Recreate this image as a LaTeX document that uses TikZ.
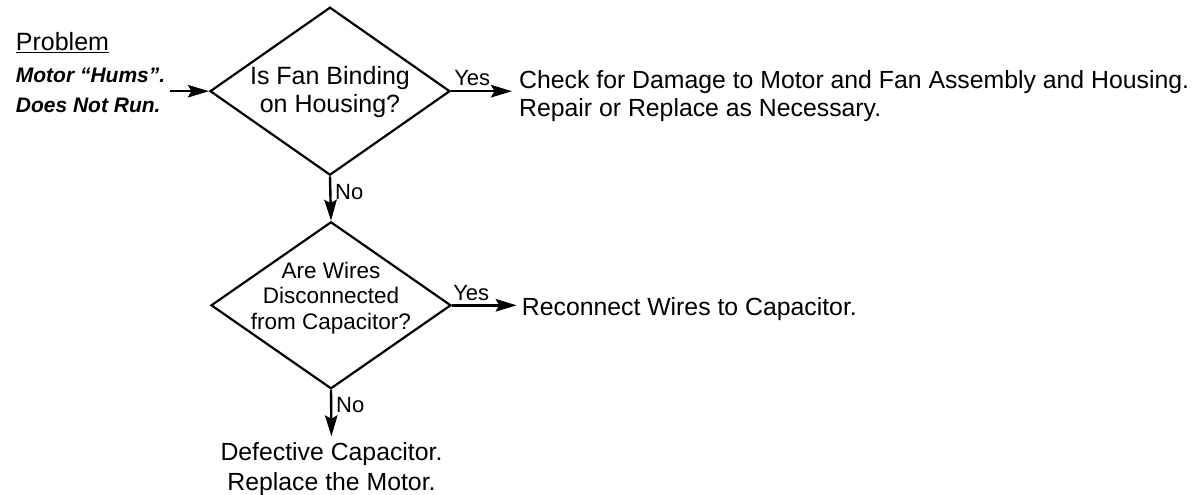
\documentclass[tikz,border=0pt]{standalone}
\usepackage{fontspec}
\setmainfont{Liberation Sans}
\usetikzlibrary{shapes.geometric,arrows.meta}
\begin{document}
\begin{tikzpicture}[x=1pt,y=-1pt,
  dia/.style={draw, shape=diamond, line width=2.2pt, minimum width=240pt,
              minimum height=168pt, inner sep=0pt},
  arr/.style={line width=2.4pt, -{Stealth[length=21pt,width=12.5pt,inset=3.5pt]}},
  txt/.style={inner sep=0pt, font=\fontsize{24.8}{28.4}\selectfont},
  lbl/.style={inner sep=0pt, font=\fontsize{22}{26}\selectfont},
]
\useasboundingbox (0,0) rectangle (1194,495);

% decision diamonds and their questions
\node[dia] (d1) at (330,91.2) {};
\node[inner sep=0pt, align=center, font=\fontsize{25}{28.4}\selectfont] (t1)
  at (330,92.3) {Is Fan Binding\\on Housing?};
\node[dia, minimum height=167pt] (d2) at (331,305.3) {};
\node[inner sep=0pt, align=center, font=\fontsize{22.5}{25.5}\selectfont] (t2)
  at (331,297.8) {Are Wires\\Disconnected\\from Capacitor?};

% problem statement
\node[inner sep=0pt, anchor=base west, font=\fontsize{25}{28}\selectfont] (prob)
  at (15.7,50.7) {\underline{Problem}};
\node[inner sep=0pt, anchor=west, align=left,
      font=\fontsize{21}{30}\selectfont\bfseries\itshape] (sym)
  at (15.7,90.5) {Motor “Hums”.\\Does Not Run.};

% outcomes
\node[txt, anchor=west, align=left] (chk) at (519,96.3)
  {Check for Damage to Motor and Fan Assembly and Housing.\\Repair or Replace as Necessary.};
\node[txt, anchor=base west] (rec) at (521.7,315) {Reconnect Wires to Capacitor.};
\node[txt, align=center, font=\fontsize{24.8}{30}\selectfont] (def) at (331.5,468.9)
  {Defective Capacitor.\\Replace the Motor.};

% flow
\draw[arr, shorten <=5pt] (sym.east |- d1.west) -- (d1.west);
\draw[arr, shorten >=7pt] (d1.east) --
  node[lbl, pos=0, anchor=base west, xshift=2pt, yshift=5.5pt] (y1) {Yes}
  (d1.east -| chk.west);
\draw[arr] (d1.south) --
  node[lbl, pos=0, anchor=base west, xshift=4pt, yshift=-23pt] (n1) {No}
  (d2.north);
\draw[arr, shorten >=5pt] (d2.east) --
  node[lbl, pos=0, anchor=base west, xshift=0pt, yshift=4.5pt] (y2) {Yes}
  (d2.east -| rec.west);
\draw[arr, shorten >=5.8pt] (d2.south) --
  node[lbl, pos=0, anchor=base west, xshift=4pt, yshift=-23pt] (n2) {No}
  (def.north);
\end{tikzpicture}
\end{document}
